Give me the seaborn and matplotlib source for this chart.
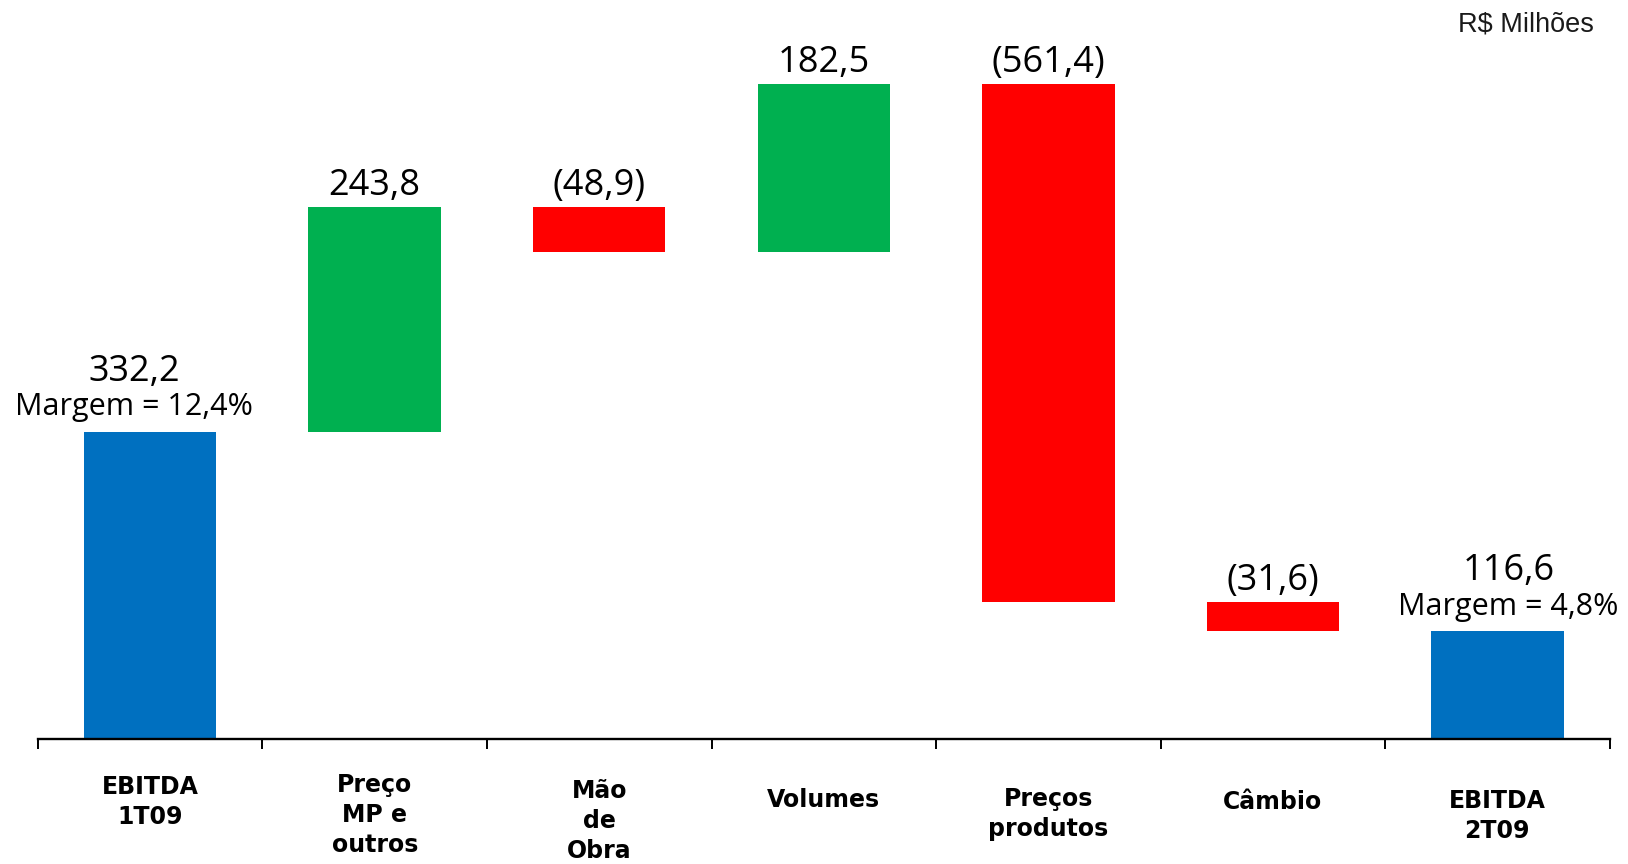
import numpy as np
import pandas as pd
import seaborn as sns
import matplotlib.pyplot as plt
from matplotlib.transforms import blended_transform_factory

# data (R$ milhões)
categories = ["EBITDA\n1T09", "Preço\nMP e\noutros", "Mão\nde\nObra", "Volumes",
              "Preços\nprodutos", "Câmbio", "EBITDA\n2T09"]
changes = [332.2, 243.8, -48.9, 182.5, -561.4, -31.6, 116.6]
kinds = ["total", "delta", "delta", "delta", "delta", "delta", "total"]
margins = ["Margem = 12,4%", None, None, None, None, None, "Margem = 4,8%"]

colors = {"total": "#0070C0", "up": "#00B050", "down": "#FF0000"}

# waterfall geometry
bottoms, tops, cols = [], [], []
running = 0.0
for v, k in zip(changes, kinds):
    if k == "total":
        b, t = 0.0, v
        running = v
        c = colors["total"]
    else:
        b, t = (running, running + v) if v >= 0 else (running + v, running)
        running += v
        c = colors["up"] if v >= 0 else colors["down"]
    bottoms.append(b)
    tops.append(t)
    cols.append(c)

df = pd.DataFrame({"cat": categories, "top": tops, "bottom": bottoms})

sns.set_theme(style="white")
fig, ax = plt.subplots(figsize=(16.28, 8.64), dpi=100)
fig.subplots_adjust(left=0.0233, right=0.9887, bottom=0.1447, top=1.0)

sns.barplot(data=df, x="cat", y="top", hue="cat", palette=cols, legend=False,
            width=0.59, saturation=1, ax=ax)
# make the bars float
for patch, b, t in zip(ax.patches, bottoms, tops):
    patch.set_y(b)
    patch.set_height(t - b)
    patch.set_edgecolor("none")

ax.set_ylim(0, 800)
ax.set_xlim(-0.5, len(categories) - 0.5)
ax.set_xticks(np.arange(-0.5, len(categories), 1))
ax.set_xticklabels([])
ax.set_yticks([])
ax.set_xlabel("")
ax.set_ylabel("")
for s in ["top", "left", "right"]:
    ax.spines[s].set_visible(False)
ax.spines["bottom"].set_color("black")
ax.spines["bottom"].set_linewidth(1.7)
ax.tick_params(axis="x", direction="out", length=7, width=1.4, color="black", bottom=True)

val_font = "Open Sans"

def fmt(v):
    s = f"{abs(v):.1f}".replace(".", ",")
    return f"({s})" if v < 0 else s

end_dx = {0: -11.5, 6: 8}
for i, (v, t) in enumerate(zip(changes, tops)):
    if margins[i]:
        dx = end_dx.get(i, 0)
        ax.annotate(margins[i], (i, t), xytext=(dx, 12), textcoords="offset points",
                    ha="center", va="baseline", fontsize=22, family=val_font, color="black")
        ax.annotate(fmt(v), (i, t), xytext=(dx, 37), textcoords="offset points",
                    ha="center", va="baseline", fontsize=26, family=val_font, color="black")
    else:
        ax.annotate(fmt(v), (i, t), xytext=(0, 8.6), textcoords="offset points",
                    ha="center", va="baseline", fontsize=26, family=val_font, color="black")

# category labels below the axis
label_y = [0.0718, 0.0567, 0.0498, 0.0741, 0.0579, 0.0718, 0.0556]
trans = blended_transform_factory(ax.transData, fig.transFigure)
for i, (lab, y) in enumerate(zip(categories, label_y)):
    ax.text(i, y, lab, transform=trans, ha="center", va="center", fontsize=17,
            fontweight="bold", family="DejaVu Sans", linespacing=1.33, color="black")

fig.text(0.979, 0.964, "R$ Milhões", ha="right", va="baseline", fontsize=19.5,
         family="Liberation Sans", color="#1a1a1a")

plt.savefig("out.png", dpi=100)
